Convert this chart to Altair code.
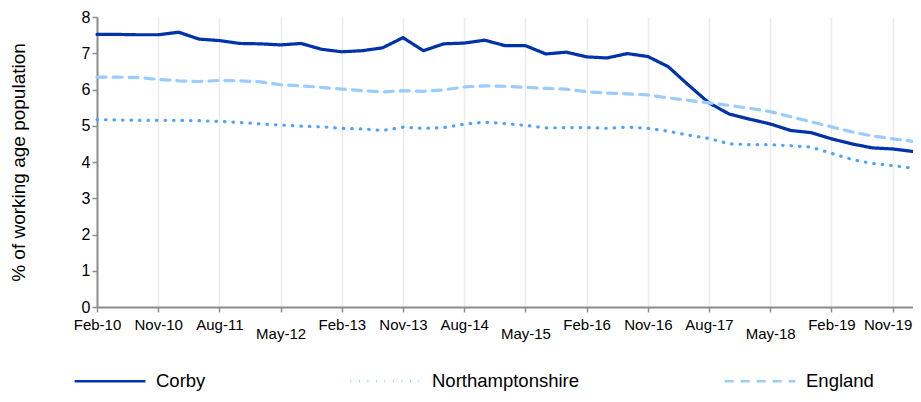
import altair as alt
import pandas as pd

quarters = [f"{m}-{y:02d}" for y in range(10, 21) for m in ["Feb", "May", "Aug", "Nov"]][:41]

corby = [7.52, 7.52, 7.51, 7.51, 7.58, 7.39, 7.35, 7.27, 7.26, 7.23,
         7.27, 7.11, 7.04, 7.07, 7.15, 7.43, 7.07, 7.26, 7.28, 7.36,
         7.21, 7.21, 6.98, 7.03, 6.90, 6.87, 6.99, 6.91, 6.63, 6.12,
         5.63, 5.32, 5.18, 5.05, 4.87, 4.81, 4.64, 4.50, 4.39, 4.36, 4.29]
northants = [5.17, 5.16, 5.15, 5.15, 5.15, 5.14, 5.12, 5.09, 5.05, 5.02,
             4.99, 4.97, 4.93, 4.91, 4.87, 4.96, 4.93, 4.95, 5.04, 5.10,
             5.06, 5.01, 4.94, 4.95, 4.95, 4.93, 4.96, 4.93, 4.85, 4.74,
             4.65, 4.50, 4.48, 4.48, 4.45, 4.41, 4.24, 4.07, 3.96, 3.90, 3.83]
england = [6.34, 6.34, 6.33, 6.28, 6.24, 6.22, 6.25, 6.24, 6.21, 6.13,
           6.10, 6.06, 6.01, 5.97, 5.93, 5.97, 5.95, 5.99, 6.07, 6.10,
           6.09, 6.06, 6.03, 6.01, 5.94, 5.90, 5.88, 5.85, 5.77, 5.70,
           5.63, 5.56, 5.48, 5.39, 5.25, 5.11, 4.97, 4.83, 4.72, 4.64, 4.57]

series_names = ["Corby", "Northamptonshire", "England"]
series_colors = ["#0033AA", "#4DA3FF", "#99CCFF"]
series_dash = [[1, 0], [0.5, 8], [9, 7]]
label_values = quarters[::3]

rows = []
for name, vals in zip(series_names, [corby, northants, england]):
    for q, v in zip(quarters, vals):
        rows.append({"quarter": q, "value": v, "series": name})
df = pd.DataFrame(rows)

FONT = "Liberation Sans"

chart = alt.Chart(df).mark_line(strokeWidth=3.2, strokeCap="round", strokeJoin="round").encode(
    x=alt.X("quarter:N", sort=quarters,
            scale=alt.Scale(type="point", padding=0, domain=quarters),
            axis=alt.Axis(title=None, values=label_values, labelAngle=0,
                          grid=True, gridColor="#EBEBEB", gridWidth=1.5,
                          domainColor="#8C8C8C", domainWidth=2,
                          tickColor="#8C8C8C", tickWidth=1.5, tickSize=5,
                          labelFont=FONT, labelFontSize=15, labelColor="#000000",
                          labelPadding={"condition": {"test": "indexof(datum.value, 'May') == 0", "value": 14}, "value": 5},
                          labelOffset={"condition": {"test": "datum.value == 'Nov-19'", "value": -5}, "value": 0},
                          labelOverlap=False, labelFlush=False)),
    y=alt.Y("value:Q", scale=alt.Scale(domain=[0, 8], nice=False),
            axis=alt.Axis(title="% of working age population", values=list(range(0, 9)),
                          grid=False, domainColor="#8C8C8C", domainWidth=2,
                          tickColor="#8C8C8C", tickWidth=1.5, tickSize=5,
                          labelFont=FONT, labelFontSize=16, labelColor="#000000", labelPadding=2,
                          titleFont=FONT, titleFontSize=19, titleFontWeight="normal",
                          titleColor="#000000", titlePadding=53)),
    color=alt.Color("series:N", scale=alt.Scale(domain=series_names, range=series_colors), title=None),
    strokeDash=alt.StrokeDash("series:N", scale=alt.Scale(domain=series_names, range=series_dash), title=None),
).properties(
    width=816, height=290,
    autosize=alt.AutoSizeParams(type="none"),
    padding={"left": 89, "top": 9, "right": 0, "bottom": 87},
).configure_view(stroke=None).configure_legend(
    orient="none", legendX=-24, legendY=327, direction="horizontal",
    symbolType="stroke", symbolSize=5000, symbolStrokeWidth=2.5,
    labelFont=FONT, labelFontSize=18.5, labelColor="#000000", labelOffset=9,
    columnPadding=139, labelLimit=300,
)

chart.save("out.html", embed_options={"renderer": "svg", "actions": False})
